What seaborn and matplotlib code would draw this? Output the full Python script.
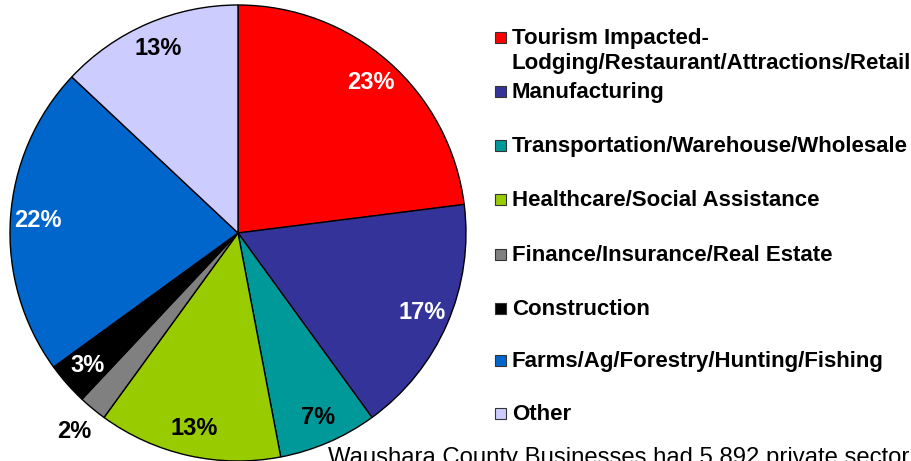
import numpy as np
import matplotlib
matplotlib.use("Agg")
import matplotlib.pyplot as plt
import seaborn as sns
from matplotlib.patches import Rectangle

# data
sectors = [
    "Tourism Impacted-\nLodging/Restaurant/Attractions/Retail",
    "Manufacturing",
    "Transportation/Warehouse/Wholesale",
    "Healthcare/Social Assistance",
    "Finance/Insurance/Real Estate",
    "Construction",
    "Farms/Ag/Forestry/Hunting/Fishing",
    "Other",
]
shares = [23, 17, 7, 13, 2, 3, 22, 13]
colors = ["#FF0000", "#333399", "#009999", "#99CC00", "#808080", "#000000", "#0066CC", "#CCCCFF"]
label_colors = ["white", "white", "black", "black", "black", "white", "white", "black"]
note = "Waushara County Businesses had 5,892 private sector"

sns.set_theme(style="white")
plt.rcParams["font.family"] = ["Liberation Sans", "DejaVu Sans"]
plt.rcParams["text.color"] = "black"

fig = plt.figure(figsize=(9.12, 4.61), dpi=100)
W, H = 912, 461
ax = fig.add_axes([10 / W, 0.0, 456 / W, 456 / H])

wedges, texts, pcts = ax.pie(
    shares, colors=colors, startangle=90, counterclock=False,
    autopct=lambda p: f"{p:.0f}%", pctdistance=0.88,
    wedgeprops=dict(edgecolor="black", linewidth=1.0),
    textprops=dict(fontsize=17, fontweight="bold"),
)
for t, c in zip(pcts, label_colors):
    t.set_color(c)
# small slice label goes outside
w = wedges[4]
ang = np.deg2rad((w.theta1 + w.theta2) / 2)
pcts[4].set_position((1.13 * np.cos(ang), 1.13 * np.sin(ang)))

ax.set_xlim(-1.0, 1.0)
ax.set_ylim(-1.0, 1.0)
ax.set_aspect("equal")
ax.axis("off")

# legend, drawn by hand so the swatch sits on the first line
baselines = [44, 98, 152, 206, 261, 315, 367, 420]
for name, col, y in zip(sectors, colors, baselines):
    fig.patches.append(Rectangle((495 / W, 1 - (y - 1) / H), 11 / W, 11 / H,
                                 transform=fig.transFigure, facecolor=col,
                                 edgecolor="#333333", linewidth=0.8))
    for i, line in enumerate(name.split("\n")):
        fig.text(512 / W, 1 - (y + 25 * i) / H, line, fontsize=16, fontweight="bold",
                 va="baseline", ha="left")

fig.text(328 / W, 1 - 447 / H, note, fontsize=17.2, va="top", ha="left")

fig.savefig("out.png", dpi=100)
